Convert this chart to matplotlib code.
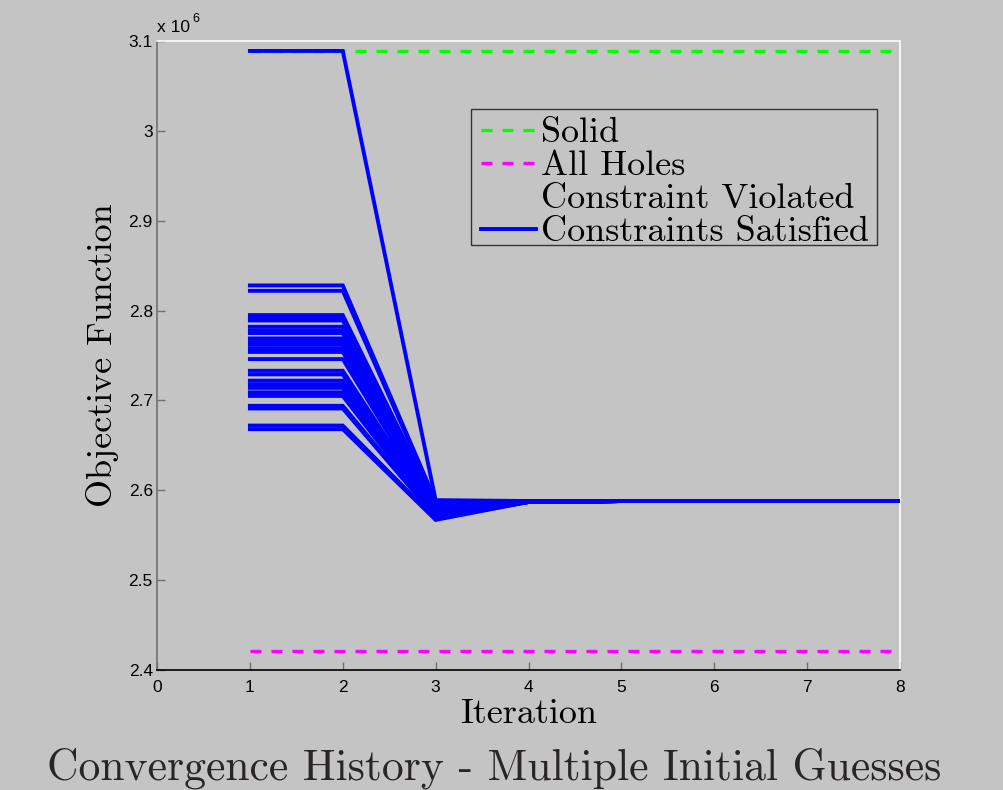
import matplotlib
matplotlib.use('Agg')
import matplotlib.pyplot as plt
from matplotlib.lines import Line2D
from matplotlib.patches import Rectangle
from matplotlib.ticker import FuncFormatter

# ---- data (objective function values, x 1e6) ----
iterations = [1, 2, 3, 4, 5, 6, 7, 8]

start_vals = [3.089, 2.828, 2.822, 2.795, 2.792, 2.789, 2.782, 2.778, 2.775,
              2.769, 2.766, 2.762, 2.758, 2.754, 2.746, 2.733, 2.729, 2.722,
              2.718, 2.714, 2.709, 2.705, 2.694, 2.691, 2.672, 2.668]
iter3_vals = [2.589, 2.588, 2.587, 2.585, 2.584, 2.584, 2.583, 2.582, 2.582,
              2.581, 2.580, 2.580, 2.579, 2.578, 2.577, 2.575, 2.575, 2.574,
              2.573, 2.573, 2.572, 2.571, 2.570, 2.570, 2.568, 2.567]
iter4_vals = [2.588, 2.588, 2.588, 2.588, 2.588, 2.588, 2.588, 2.588, 2.587,
              2.587, 2.587, 2.587, 2.587, 2.587, 2.587, 2.587, 2.587, 2.587,
              2.587, 2.587, 2.587, 2.587, 2.587, 2.587, 2.587, 2.587]
final_val = 2.588

solid_val = 3.089
holes_val = 2.421

SCALE = 1e6
BG = '#c3c4c3'
BLUE = '#0000ff'
CM = 'cmr10'

fig = plt.figure(figsize=(10.04, 7.9), dpi=100)
fig.patch.set_facecolor(BG)
ax = fig.add_axes([0.1564, 0.152, 0.74, 0.796])
ax.set_facecolor(BG)

# guesses
for s, v3, v4 in zip(start_vals, iter3_vals, iter4_vals):
    ys = [s, s, v3, v4, final_val, final_val, final_val, final_val]
    ax.plot(iterations, [y * SCALE for y in ys], color=BLUE, lw=2.8,
            solid_joinstyle='miter', zorder=3)

ax.plot([iterations[0], iterations[-1]], [solid_val * SCALE] * 2,
        color='#00ff00', lw=2.4, ls=(0, (3.3, 3.0)), zorder=2)
ax.plot([iterations[0], iterations[-1]], [holes_val * SCALE] * 2,
        color='#ff00ff', lw=2.4, ls=(0, (3.3, 3.0)), zorder=2)

ax.set_xlim(0, 8)
ax.set_ylim(2.4 * SCALE, 3.1 * SCALE)
ax.set_xticks(range(0, 9))
ax.set_yticks([v * SCALE for v in [2.4, 2.5, 2.6, 2.7, 2.8, 2.9, 3.0, 3.1]])
ax.yaxis.set_major_formatter(FuncFormatter(lambda v, p: '%g' % round(v / SCALE, 2)))

for lab in ax.get_xticklabels() + ax.get_yticklabels():
    lab.set_fontfamily('Liberation Sans')
    lab.set_fontsize(12.5)
ax.tick_params(direction='in', length=6, width=1, color='#707070',
               top=False, right=False)
ax.tick_params(axis='x', pad=7)
ax.tick_params(axis='y', pad=3)

ax.spines['left'].set_color('#707070')
ax.spines['bottom'].set_color('#000000')
ax.spines['top'].set_color('#ffffff')
ax.spines['right'].set_color('#ffffff')
for sp in ax.spines.values():
    sp.set_linewidth(1.2)

# offset text
fig.text(157 / 1004, 1 - 28 / 790, 'x 10', fontsize=12.5, family='Liberation Sans',
         va='center', ha='left')
fig.text(192 / 1004, 1 - 19 / 790, '6', fontsize=9, family='Liberation Sans',
         va='center', ha='left')

ax.set_ylabel('Objective Function', fontsize=26, family=CM, labelpad=7)
ax.set_xlabel('Iteration', fontsize=26, family=CM, labelpad=3)
fig.text(494 / 1004, 1 - 768 / 790, 'Convergence History - Multiple Initial Guesses',
         fontsize=31.4, family=CM, color='#2a2525', ha='center', va='center')

handles = [
    Line2D([], [], color='#00ff00', lw=2.4, ls=(0, (3.3, 3.0))),
    Line2D([], [], color='#ff00ff', lw=2.4, ls=(0, (3.3, 3.0))),
    Line2D([], [], color='none', lw=2.4),
    Line2D([], [], color=BLUE, lw=2.8),
]
labels = ['Solid', 'All Holes', 'Constraint Violated', 'Constraints Satisfied']
leg = ax.legend(handles, labels, loc='upper right', bbox_to_anchor=(0.969, 0.892),
                prop={'family': CM, 'size': 26}, frameon=False,
                handlelength=1.5, handletextpad=0.15, labelspacing=0.02,
                borderpad=0.22, borderaxespad=0)
leg.set_zorder(6)

# legend box (MATLAB style, tight at the bottom)
ax.add_patch(Rectangle((0.4226, 0.6757), 0.9690 - 0.4226, 0.8919 - 0.6757,
                       transform=ax.transAxes, facecolor=BG, edgecolor='#333333',
                       lw=1.0, zorder=5))

fig.savefig('out.png', dpi=100, facecolor=BG)
